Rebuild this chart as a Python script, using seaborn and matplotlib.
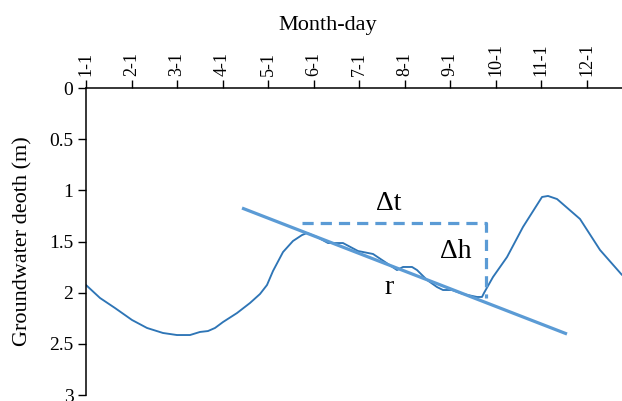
import matplotlib
matplotlib.use("Agg")
import matplotlib.pyplot as plt
import seaborn as sns
import pandas as pd

# month index (0 = 1-1, 1 = 2-1, ...), groundwater depth (m)
month_pos = [0.000, 0.308, 0.637, 1.011, 1.341, 1.692, 1.999, 2.286, 2.505, 2.681,
             2.835, 3.011, 3.319, 3.604, 3.824, 3.978, 4.110, 4.330, 4.549, 4.747,
             4.857, 5.077, 5.319, 5.495, 5.648, 5.978, 6.308, 6.571, 6.835, 6.967,
             7.165, 7.275, 7.495, 7.714, 7.846, 8.044, 8.286, 8.593, 8.703, 8.747,
             8.945, 9.253, 9.604, 10.022, 10.154, 10.352, 10.857, 11.297, 11.780]
depth = [1.925, 2.052, 2.150, 2.267, 2.345, 2.394, 2.414, 2.414, 2.384, 2.375,
         2.345, 2.287, 2.199, 2.101, 2.013, 1.925, 1.788, 1.603, 1.495, 1.437,
         1.417, 1.456, 1.515, 1.515, 1.515, 1.593, 1.622, 1.700, 1.779, 1.749,
         1.749, 1.779, 1.876, 1.945, 1.974, 1.974, 2.013, 2.042, 2.042, 2.003,
         1.847, 1.652, 1.358, 1.065, 1.055, 1.085, 1.280, 1.583, 1.827]

tick_labels = ["1-1", "2-1", "3-1", "4-1", "5-1", "6-1", "7-1", "8-1", "9-1",
               "10-1", "11-1", "12-1"]
ytick_vals = [0, 0.5, 1, 1.5, 2, 2.5, 3]
ytick_labels = ["0", "0.5", "1", "1.5", "2", "2.5", "3"]

# recession line r
reg_x = [3.429, 10.571]
reg_y = [1.173, 2.404]
# dashed triangle (delta t horizontal, delta h vertical)
dash_x = [4.747, 8.791, 8.791]
dash_y = [1.319, 1.319, 2.052]

sns.set_style("white")
plt.rcParams['font.family'] = ['Liberation Serif', 'DejaVu Serif']
plt.rcParams['text.color'] = 'black'
plt.rcParams['axes.labelcolor'] = 'black'
plt.rcParams['xtick.color'] = 'black'
plt.rcParams['ytick.color'] = 'black'

fig = plt.figure(figsize=(6.22, 4.01), dpi=100)
ax = fig.add_axes([86/622, 6/401, 536/622, 307/401])

df = pd.DataFrame({"m": month_pos, "d": depth})
sns.lineplot(data=df, x="m", y="d", sort=False, estimator=None, ax=ax,
             color="#2E75B6", lw=1.35)
ax.plot(reg_x, reg_y, color="#5B9BD5", lw=2.3, solid_capstyle="butt")
ax.plot(dash_x, dash_y, color="#5B9BD5", lw=2.3, dashes=(3.5, 2.2))

ax.text(6.659, 1.124, "Δt", fontsize=20, ha="center", va="center")
ax.text(8.132, 1.593, "Δh", fontsize=20, ha="center", va="center")
ax.text(6.659, 1.945, "r", fontsize=20, ha="center", va="center")

ax.set_xlim(0, 11.78)
ax.set_ylim(3, 0)
ax.xaxis.tick_top()
ax.xaxis.set_label_position("top")
ax.set_xticks(range(len(tick_labels)))
ax.set_xticklabels(tick_labels, rotation=90, fontsize=13)
ax.set_yticks(ytick_vals)
ax.set_yticklabels(ytick_labels, fontsize=14)
ax.tick_params(axis="both", direction="out", length=6, width=1, color="black",
               labelcolor="black", pad=3, top=True, bottom=False, left=True)
ax.set_xlabel("Month-day", fontsize=16, color="black")
ax.xaxis.set_label_coords(0.45, 1.19)
ax.set_ylabel("Groundwater deoth (m)", fontsize=16, color="black")
ax.yaxis.set_label_coords(-0.1007, 0.5)

for s in ["right", "bottom"]:
    ax.spines[s].set_visible(False)
for s in ["left", "top"]:
    ax.spines[s].set_color("black")
    ax.spines[s].set_linewidth(1.1)

fig.savefig("out.png", dpi=100)
